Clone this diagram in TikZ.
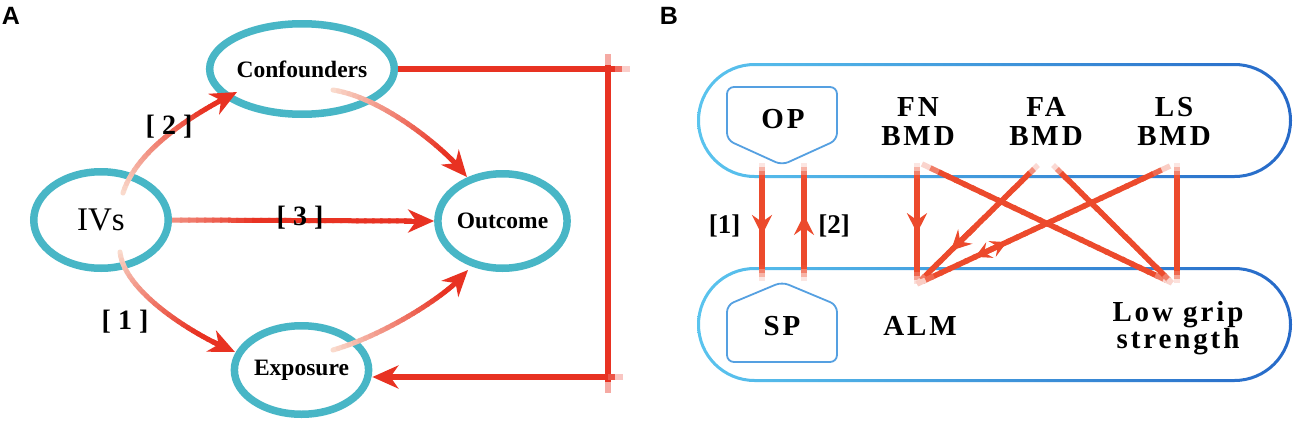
\documentclass[tikz,border=0pt]{standalone}
\usepackage{fontspec}
\setmainfont{Liberation Serif}
\newfontfamily\lsans{Liberation Sans}
\newfontfamily\spaced{Liberation Serif}[LetterSpace=10]
\usetikzlibrary{arrows.meta,shapes.geometric,calc}

\definecolor{lred}{RGB}{232,50,34}
\definecolor{bred}{RGB}{236,74,44}
\definecolor{lpeach}{RGB}{250,222,208}
\colorlet{lbase}{lred!45!lpeach}
\definecolor{ringc}{RGB}{72,182,198}
\definecolor{stL}{RGB}{90,196,238}
\definecolor{stR}{RGB}{38,105,200}
\definecolor{pentc}{RGB}{85,160,225}

\tikzset{
  ringnode/.style={ellipse, draw=ringc, line width=7.5pt, inner sep=0pt,
    font=\fontsize{23.5}{26}\selectfont\bfseries},
  alab/.style={font=\fontsize{28}{30}\selectfont\bfseries, inner sep=0pt},
  blab/.style={font=\fontsize{27}{28}\selectfont\bfseries, inner sep=0pt},
  btext/.style={font=\spaced\bfseries\fontsize{29}{29}\selectfont, align=center, inner sep=0pt},
  atip/.style={-{Stealth[length=26pt,width=23pt,inset=8pt]}},
  btip/.style={-{Stealth[length=20pt,width=20pt,inset=7pt]}},
  bdbl/.style={{Stealth[length=16pt,width=17pt,inset=6pt]}-{Stealth[length=16pt,width=17pt,inset=6pt]}},
  panel/.style={font=\lsans\bfseries\fontsize{25}{28}\selectfont, inner sep=0pt},
  pentline/.style={draw=pentc, line width=1.8pt, rounded corners=7pt},
}

% straight line drawn as segments with faded ends
\newcommand\fline[7]{%
  \foreach \k in {1,...,30}{%
    \pgfmathsetmacro\ta{(\k-1)/30}%
    \pgfmathsetmacro\tb{min(1,(\k+0.3)/30)}%
    \pgfmathsetmacro\pc{100*min(1,((\k-0.5)/30)/#3,(1-(\k-0.5)/30)/#4)}%
    \draw[line width=#5, draw=#6!\pc!#7] ($(#1)!\ta!(#2)$) -- ($(#1)!\tb!(#2)$);
  }}

% curved arrow with colour running from pale to red
\newcommand\gcurve[5]{%
  \path (#1) .. controls (#2) and (#3) .. (#4)
    node foreach \k in {0,...,30} [coordinate, pos=\k/30] (#5-\k) {};
  \foreach \k in {1,...,26}{%
    \pgfmathtruncatemacro\kp{\k-1}%
    \pgfmathsetmacro\pc{min(100,100*(\k-0.5)/22)}%
    \draw[line width=5pt, line cap=round, draw=lred!\pc!lpeach] (#5-\kp) -- (#5-\k);
  }%
  \draw[line width=5pt, draw=lred, atip] (#5-25) -- (#5-30);
}

\begin{document}
\begin{tikzpicture}[x=1pt,y=-1pt]
\useasboundingbox (0,0) rectangle (1307,434);
\fill[white] (0,0) rectangle (1307,434);

% ================= Panel A =================
\node[panel] (labA) at (11,16) {A};

\node[ringnode, minimum width=129.5pt, minimum height=90.5pt] (conf) at (302,69) {Confounders};
\node[ringnode, minimum width=134.5pt, minimum height=96.5pt, font=\fontsize{33}{36}\selectfont] (ivs) at (101,220) {IVs};
\node[ringnode, minimum width=127.5pt, minimum height=94.5pt] (outc) at (502.5,221) {Outcome};
\node[ringnode, minimum width=129.5pt, minimum height=88.5pt] (exps) at (301.5,370) {Exposure};

% curved arrows
\coordinate (c1s) at (123,193); \coordinate (c1a) at (138,145);
\coordinate (c1b) at (205,108); \coordinate (c1e) at (237,92);
\gcurve{c1s}{c1a}{c1b}{c1e}{cu1}

\coordinate (c2s) at (333,90);  \coordinate (c2a) at (385,98);
\coordinate (c2b) at (450,153); \coordinate (c2e) at (467,177);
\gcurve{c2s}{c2a}{c2b}{c2e}{cu2}

\coordinate (c3s) at (120,252); \coordinate (c3a) at (124,292);
\coordinate (c3b) at (195,336); \coordinate (c3e) at (235,352);
\gcurve{c3s}{c3a}{c3b}{c3e}{cu3}

\coordinate (c4s) at (333,350); \coordinate (c4a) at (385,335);
\coordinate (c4b) at (450,294); \coordinate (c4e) at (468,270);
\gcurve{c4s}{c4a}{c4b}{c4e}{cu4}

% straight arrow IVs -> Outcome
\coordinate (s3e) at ($(outc.west)+(-22,0)$);
\fline{ivs.east}{s3e}{0.35}{0.001}{5pt}{lred}{lbase}
\draw[line width=5pt, lred, atip] ($(outc.west)+(-30,0)$) -- (outc.west);

% bracket Confounders -> Exposure
\coordinate (brTR) at (630,69);
\coordinate (brV1) at (608,54);
\coordinate (brV2) at (608,393);
\coordinate (brBR) at (623,377);
\coordinate (brBL) at (exps.east |- brBR);
\coordinate (brArr) at ($(brBL)+(22,0)$);
\fline{conf.east}{brTR}{0.001}{0.07}{5.5pt}{lred}{white}
\fline{brV1}{brV2}{0.04}{0.04}{5.5pt}{lred}{white}
\fline{brBR}{brArr}{0.06}{0.001}{5.5pt}{lred}{white}
\draw[line width=5.5pt, lred, atip] ($(brBL)+(30,0)$) -- (brBL);

% labels
\node[alab] (l2) at (169,127) {[ 2 ]};
\node[alab] (l3) at (300,218) {[ 3 ]};
\node[alab] (l1) at (125,322) {[ 1 ]};

% ================= Panel B =================
\node[panel] (labB) at (669,16) {B};

\shade[left color=stL, right color=stR, even odd rule]
  [rounded corners=57.5pt] (697,63) rectangle (1292,178)
  [rounded corners=54.5pt] (700,66) rectangle (1289,175);
\shade[left color=stL, right color=stR, even odd rule]
  [rounded corners=57.5pt] (697,267) rectangle (1292,382)
  [rounded corners=54.5pt] (700,270) rectangle (1289,379);

\draw[pentline] (727,87) -- (837,87) -- (837,140) -- (782,165) -- (727,140) -- cycle;
\draw[pentline] (782,282) -- (837,305) -- (837,362) -- (727,362) -- (727,305) -- cycle;

\node[btext] (op) at (783,119) {OP};
\node[btext] (sp) at (782,326) {SP};
\node[btext] (alm) at (920,326) {ALM};
\node[btext] (fn) at (918,121.5) {FN\\BMD};
\node[btext] (fa) at (1046,121.5) {FA\\BMD};
\node[btext] (ls) at (1174,121.5) {LS\\BMD};
\node[btext, font=\spaced\bfseries\fontsize{29}{25}\selectfont] (lg) at (1178,328) {Low grip\\strength};

% OP <-> SP
\coordinate (op1) at (762,163); \coordinate (sp1) at (762,281);
\coordinate (op2) at (804,163); \coordinate (sp2) at (804,281);
\fline{op1}{sp1}{0.12}{0.12}{5.5pt}{bred}{white}
\fline{sp2}{op2}{0.12}{0.12}{5.5pt}{bred}{white}
\draw[line width=5.5pt, bred, btip] ($(op1)!0.43!(sp1)$) -- ($(op1)!0.61!(sp1)$);
\draw[line width=5.5pt, bred, btip] ($(sp2)!0.38!(op2)$) -- ($(sp2)!0.56!(op2)$);
\node[blab] (b1) at (724.5,226) {[1]};
\node[blab] (b2) at (834,226) {[2]};

% crossing lines
\coordinate (fnA) at (917,163);  \coordinate (alm0) at (917,284);
\coordinate (fnB) at (922,164);  \coordinate (lg0) at (1172,283);
\coordinate (faA) at (1038,165); \coordinate (faB) at (1053,165);
\coordinate (lsA) at (1170,166); \coordinate (lsB) at (1177,163);
\coordinate (lg1) at (1177,283);

\fline{fnA}{alm0}{0.12}{0.1}{5.5pt}{bred}{white}
\fline{fnB}{lg0}{0.07}{0.07}{5.5pt}{bred}{white}
\fline{faA}{alm0}{0.08}{0.07}{5.5pt}{bred}{white}
\fline{faB}{lg0}{0.08}{0.07}{5.5pt}{bred}{white}
\fline{lsA}{alm0}{0.06}{0.06}{5.5pt}{bred}{white}
\fline{lsB}{lg1}{0.12}{0.1}{5.5pt}{bred}{white}

\draw[line width=5.5pt, bred, btip] ($(fnA)!0.42!(alm0)$) -- ($(fnA)!0.58!(alm0)$);
\draw[line width=5.5pt, bred, btip] ($(faA)!0.52!(alm0)$) -- ($(faA)!0.72!(alm0)$);
\draw[line width=5.5pt, bred, bdbl] ($(lsA)!0.645!(alm0)$) -- ($(lsA)!0.77!(alm0)$);
\end{tikzpicture}
\end{document}
